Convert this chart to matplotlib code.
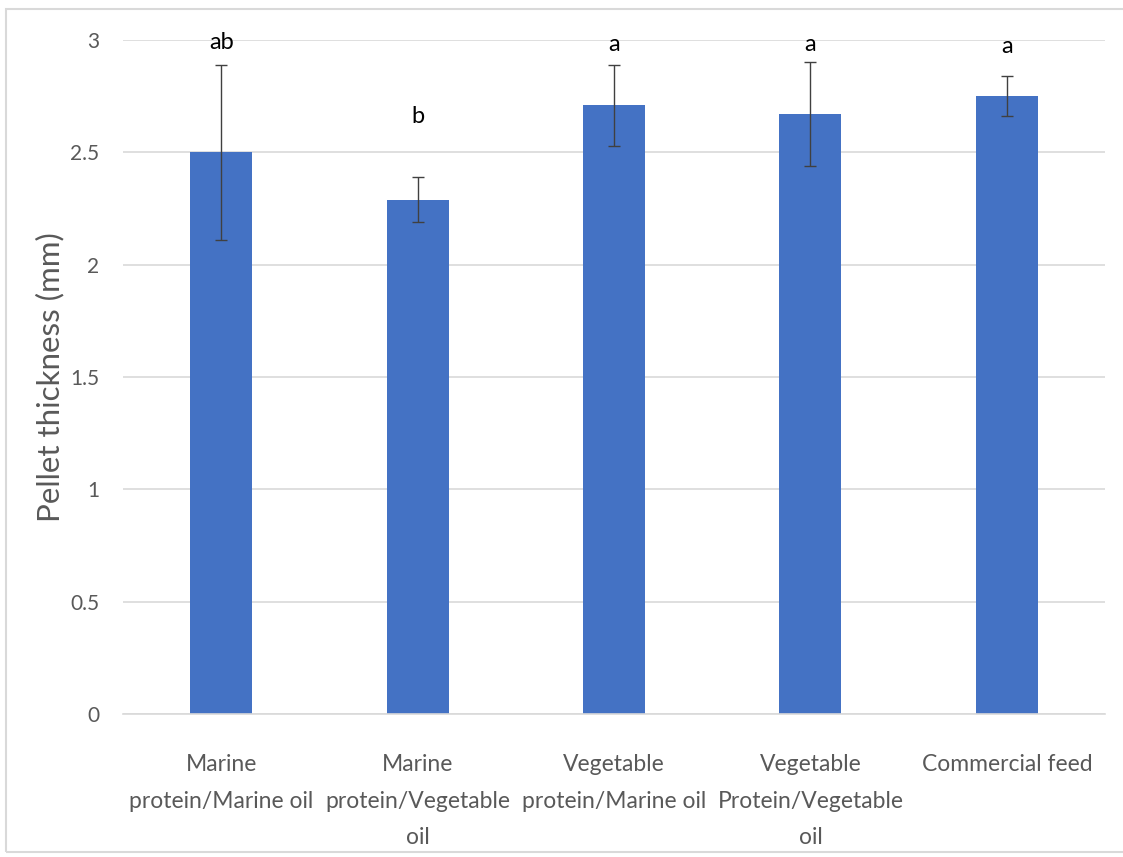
import matplotlib.pyplot as plt
from matplotlib.patches import Rectangle

plt.rcParams['font.family'] = ['Lato', 'DejaVu Sans']

# pellet thickness per diet, mean and SD
diets = ["Marine\nprotein/Marine oil", "Marine\nprotein/Vegetable\noil",
         "Vegetable\nprotein/Marine oil", "Vegetable\nProtein/Vegetable\noil",
         "Commercial feed"]
thickness = [2.50, 2.29, 2.71, 2.67, 2.75]
sd = [0.39, 0.10, 0.18, 0.23, 0.09]
letters = ["ab", "b", "a", "a", "a"]
letter_y = [2.99, 2.66, 2.98, 2.98, 2.97]

fig = plt.figure(figsize=(11.23, 8.57), dpi=100)
ax = fig.add_axes([0.1095, 0.1669, 0.8745, 0.7864])

# light frame round the whole chart (runs off the right edge)
fig.patches.append(Rectangle((0.0053, 0.0058), 1.05, 0.9837, transform=fig.transFigure,
                             fill=False, edgecolor='#d9d9d9', linewidth=1.5))

x = range(len(diets))
ax.bar(x, thickness, width=0.315, color='#4472C4', zorder=2)
ax.errorbar(x, thickness, yerr=sd, fmt='none', ecolor='#404040', elinewidth=1,
            capsize=4.5, capthick=1, zorder=3)

for i, (lab, yy) in enumerate(zip(letters, letter_y)):
    ax.text(i, yy, lab, ha='center', va='center', fontsize=17, color='black')

ax.set_xlim(-0.5, len(diets) - 0.5)
ax.set_ylim(0, 3)
ax.set_yticks([0, 0.5, 1, 1.5, 2, 2.5, 3])
ax.set_yticklabels(['0', '0.5', '1', '1.5', '2', '2.5', '3'])
ax.set_xticks(list(x))
ax.set_xticklabels(diets, linespacing=1.9, fontsize=16.5)

ax.yaxis.grid(True, color='#d9d9d9', linewidth=1.2, zorder=0)
ax.set_axisbelow(True)
for s in ax.spines.values():
    s.set_visible(False)
ax.spines['bottom'].set_visible(True)
ax.spines['bottom'].set_color('#d9d9d9')
ax.spines['bottom'].set_linewidth(1.2)

ax.tick_params(axis='both', length=0, colors='#595959')
ax.tick_params(axis='y', pad=17, labelsize=15)
ax.tick_params(axis='x', pad=29)

ax.set_ylabel("Pellet thickness (mm)", fontsize=22.5, color='#595959', labelpad=4)

fig.savefig("out.png", dpi=100, facecolor='white')
